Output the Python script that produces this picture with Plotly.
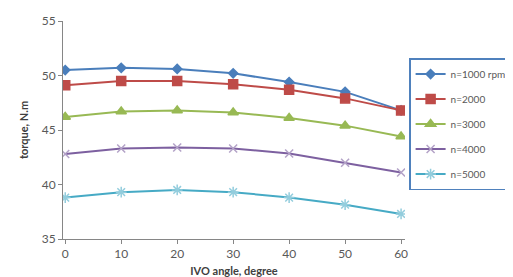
import plotly.graph_objects as go

angles = [0, 10, 20, 30, 40, 50, 60]
n1000 = [50.5, 50.7, 50.6, 50.2, 49.4, 48.5, 46.8]
n2000 = [49.1, 49.5, 49.5, 49.2, 48.7, 47.9, 46.8]
n3000 = [46.2, 46.7, 46.8, 46.6, 46.1, 45.4, 44.4]
n4000 = [42.8, 43.3, 43.4, 43.3, 42.85, 42.0, 41.1]
n5000 = [38.8, 39.3, 39.5, 39.3, 38.8, 38.15, 37.3]
names = ["n=1000 rpm", "n=2000", "n=3000", "n=4000", "n=5000"]
series = [n1000, n2000, n3000, n4000, n5000]
yticks = [35, 40, 45, 50, 55]

line_colors = ["#4A7EBB", "#BE4B48", "#98B954", "#7D60A0", "#46AAC5"]
marker_colors = ["#4A7EBB", "#BE4B48", "#98B954", "#B3A2C7", "#93CDDD"]
symbols = ["diamond", "square", "triangle-up", "x-thin-open", "asterisk-open"]
sizes = [7, 9, 9, 8, 9]

fig = go.Figure()
for i, (nm, ys) in enumerate(zip(names, series)):
    fig.add_trace(go.Scatter(
        x=angles, y=ys, name=nm, mode="lines+markers",
        legendgroup=f"g{i}",
        line=dict(color=line_colors[i], width=2),
        marker=dict(symbol=symbols[i], size=sizes[i], color=marker_colors[i],
                    line=dict(color=marker_colors[i], width=1.5)),
    ))

fig.update_layout(
    width=513, height=277,
    margin=dict(l=55, r=116, t=13, b=46, autoexpand=False),
    paper_bgcolor="white", plot_bgcolor="white",
    font=dict(family="Lato", size=12, color="#595959"),
    showlegend=True,
    legend=dict(x=1.012, y=0.83, xanchor="left", yanchor="top",
                bordercolor="#4F81BD", borderwidth=1.5,
                font=dict(size=10, color="#595959"),
                traceorder="grouped", tracegroupgap=6,
                itemwidth=30),
    xaxis=dict(range=[-0.4, 60.7], tickvals=angles, showline=True,
               linecolor="#868686", linewidth=1, ticks="outside", ticklen=4,
               tickcolor="#868686", showgrid=False, zeroline=False,
               title=dict(text="<b>IVO angle, degree</b>", standoff=6,
                          font=dict(size=11, color="#404040"))),
    yaxis=dict(range=[35, 55], tickvals=yticks, showline=True,
               linecolor="#868686", linewidth=1, ticks="outside", ticklen=4,
               tickcolor="#868686", showgrid=False, zeroline=False,
               title=dict(text="<b>torque, N.m</b>", standoff=10,
                          font=dict(size=11, color="#404040"))),
)

fig.write_html("out.html")
